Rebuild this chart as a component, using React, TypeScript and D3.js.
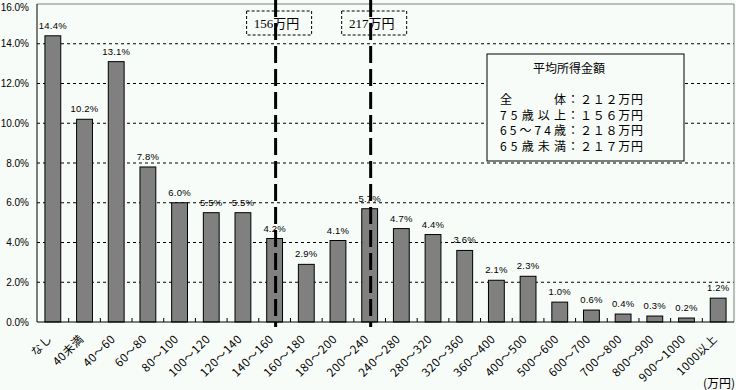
import React from "react";
import * as d3 from "d3";

const categories = [
	"なし", "40未満", "40～60", "60～80", "80～100", "100～120", "120～140",
	"140～160", "160～180", "180～200", "200～240", "240～280", "280～320",
	"320～360", "360～400", "400～500", "500～600", "600～700", "700～800",
	"800～900", "900～1000", "1000以上",
];
const shares = [
	14.4, 10.2, 13.1, 7.8, 6.0, 5.5, 5.5, 4.2, 2.9, 4.1, 5.7, 4.7, 4.4, 3.6,
	2.1, 2.3, 1.0, 0.6, 0.4, 0.3, 0.2, 1.2,
];
const yTicks = [0, 2, 4, 6, 8, 10, 12, 14, 16];

// average income markers (drawn on the class that holds them)
const markerLabels = ["156万円", "217万円"];
const markerCategories = ["140～160", "200～240"];

const summaryTitle = "平均所得金額";
const summaryGroups = ["全体", "75歳以上", "65～74歳", "65歳未満"];
const summaryAmounts = [212, 156, 218, 217];

const W = 736;
const H = 390;
const BG = "#f8fcf8";
const CJK = "'Noto Sans CJK JP', sans-serif";
const NUM = "'Liberation Sans', Arial, sans-serif";

const fullWidth = (n: number) =>
	String(n).replace(/\d/g, (c) => String.fromCharCode(c.charCodeAt(0) + 0xfee0));

export default function App() {
	const x = d3
		.scaleBand<string>()
		.domain(categories)
		.range([37, 734])
		.paddingInner(0.5)
		.paddingOuter(0.25);
	const y = d3.scaleLinear().domain([0, 16]).range([322, 4]);
	const step = x.step();
	const left = 37;
	const right = 734;
	const bottom = y(0);
	const top = y(16);
	const cx = (c: string) => (x(c) ?? 0) + x.bandwidth() / 2;

	return (
		<svg width={W} height={H} style={{ display: "block", position: "absolute", left: 0, top: 0, background: BG }}>
			<rect x={0} y={0} width={W} height={H} fill={BG} />

			{/* grid */}
			{yTicks.slice(1, -1).map((t) => (
				<line key={t} x1={left} x2={right} y1={y(t)} y2={y(t)} stroke="#000" strokeDasharray="3,3" />
			))}
			<line x1={left} x2={right} y1={top} y2={top} stroke="#808080" />
			<line x1={right} x2={right} y1={top} y2={bottom} stroke="#808080" />

			{/* y labels */}
			{yTicks.map((t) => (
				<text key={t} x={29} y={Math.max(y(t), 7)} dy="0.36em" textAnchor="end" fontFamily={NUM} fontSize={10} fill="#000">
					{d3.format(".1f")(t) + "%"}
				</text>
			))}

			{/* bars */}
			{categories.map((c, i) => (
				<g key={c}>
					<rect
						x={x(c)}
						y={y(shares[i])}
						width={x.bandwidth()}
						height={bottom - y(shares[i])}
						fill="#808080"
						stroke="#000"
						strokeWidth={1}
					/>
					<text x={cx(c)} y={y(shares[i]) - 7} textAnchor="middle" fontFamily={NUM} fontSize={9.5} letterSpacing={0.2} fill="#000">
						{shares[i].toFixed(1) + "%"}
					</text>
				</g>
			))}

			{/* axes */}
			<line x1={left} x2={left} y1={top} y2={bottom} stroke="#000" />
			<line x1={left} x2={right} y1={bottom} y2={bottom} stroke="#000" />
			{categories.slice(1).map((c, i) => (
				<line key={c} x1={left + step * (i + 1)} x2={left + step * (i + 1)} y1={bottom} y2={bottom - 4} stroke="#000" />
			))}

			{/* x labels */}
			{categories.map((c) => (
				<text
					key={c}
					transform={`translate(${cx(c) - 3},${bottom + 15}) rotate(-45)`}
					dy="0.35em"
					textAnchor="end"
					fontFamily={CJK}
					fontSize={11.5}
					letterSpacing={0.5}
					fill="#000"
				>
					{c}
				</text>
			))}
			<text x={735} y={388} textAnchor="end" fontFamily={CJK} fontSize={12} fill="#000">
				(万円)
			</text>

			{/* average markers */}
			{markerCategories.map((c, i) => {
				const mx = cx(c) + 1;
				return (
					<g key={c}>
						<rect x={mx - 29} y={11} width={65} height={24} fill="none" stroke="#000" strokeDasharray="3,2" />
						<line x1={mx} x2={mx} y1={0} y2={327} stroke="#000" strokeWidth={3} strokeDasharray="17,6" />
						<text x={mx + 1} y={28} textAnchor="middle" fontFamily={"'Liberation Serif', 'Noto Sans CJK JP', serif"} fontSize={13} fill="#000">
							{markerLabels[i]}
						</text>
					</g>
				);
			})}

			{/* summary box */}
			<rect x={487} y={54} width={197} height={107} fill={BG} stroke="#000" />
			<text x={569} y={73} textAnchor="middle" fontFamily={CJK} fontSize={12} fill="#000">
				{summaryTitle}
			</text>
			{summaryGroups.map((g, i) => {
				const by = 104 + i * 15.7;
				return (
					<g key={g} fontFamily={CJK} fontSize={12} fill="#000">
						<text x={500} y={by} textLength={66} lengthAdjust="spacing">
							{g}
						</text>
						<text x={567} y={by}>：</text>
						<text x={580} y={by} textLength={63} lengthAdjust="spacing">
							{fullWidth(summaryAmounts[i]) + "万円"}
						</text>
					</g>
				);
			})}
		</svg>
	);
}
